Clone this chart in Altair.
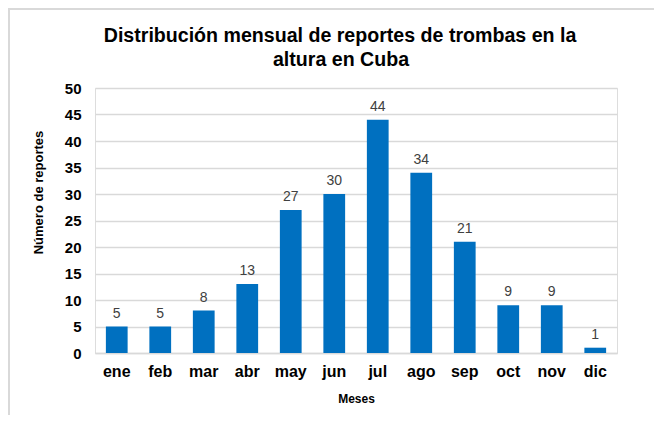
import altair as alt
import pandas as pd

meses = ["ene", "feb", "mar", "abr", "may", "jun", "jul", "ago", "sep", "oct", "nov", "dic"]
reportes = [5, 5, 8, 13, 27, 30, 44, 34, 21, 9, 9, 1]
titulo = ["Distribución mensual de reportes de trombas en la", "altura en Cuba"]

df = pd.DataFrame({"mes": meses, "n": reportes})

FONT = "Liberation Sans"

base = alt.Chart(df)

x_enc = alt.X(
    "mes:N",
    sort=meses,
    scale=alt.Scale(paddingInner=0.5, paddingOuter=0.25),
    axis=alt.Axis(
        title="Meses",
        labelAngle=0,
        labelFont=FONT,
        labelFontSize=16,
        labelFontWeight="bold",
        labelColor="#000000",
        labelPadding=10,
        ticks=False,
        domainColor="#d9d9d9",
        domainWidth=1.5,
        titleFont=FONT,
        titleFontSize=12,
        titleFontWeight="bold",
        titleColor="#000000",
        titlePadding=14,
    ),
)

y_enc = alt.Y(
    "n:Q",
    scale=alt.Scale(domain=[0, 50]),
    axis=alt.Axis(
        title="Número de reportes",
        values=list(range(0, 51, 5)),
        labelOverlap=False,
        labelFont=FONT,
        labelFontSize=15,
        labelFontWeight="bold",
        labelColor="#000000",
        labelPadding=14,
        ticks=False,
        domain=False,
        gridColor="#d9d9d9",
        gridWidth=1.5,
        titleFont=FONT,
        titleFontSize=13,
        titleFontWeight="bold",
        titleColor="#000000",
        titleX=-57,
        titleY=104,
        titleAngle=-90,
        titleBaseline="middle",
        titleAlign="center",
    ),
)

bars = base.mark_bar(color="#0070C0").encode(x=x_enc, y=y_enc)

labels = base.mark_text(
    baseline="bottom", dy=-6, font=FONT, fontSize=14, color="#404040"
).encode(x=x_enc, y=y_enc, text="n:Q")

one = base.transform_filter(alt.datum.mes == "ene")

border = one.mark_rect(
    fill=None, filled=False, stroke="#d9d9d9", strokeWidth=2
).encode(
    x=alt.value(-86), x2=alt.value(700), y=alt.value(-79), y2=alt.value(500)
)

t1 = one.mark_text(
    font=FONT, fontSize=19.6, fontWeight="bold", color="#000000", baseline="middle", align="center"
).encode(x=alt.value(245), y=alt.value(-52), text=alt.value(titulo[0]))

t2 = one.mark_text(
    font=FONT, fontSize=19.6, fontWeight="bold", color="#000000", baseline="middle", align="center"
).encode(x=alt.value(246), y=alt.value(-28), text=alt.value(titulo[1]))

chart = (
    alt.layer(border, bars, labels, t1, t2)
    .properties(
        width=522,
        height=265,
        padding={"left": 87, "top": 80, "right": 37, "bottom": 62},
        autosize=alt.AutoSizeParams(type="none"),
    )
    .configure_view(stroke=None)
    .configure(background="white")
)

chart.save("out.html", embed_options={"renderer": "svg", "actions": False})
